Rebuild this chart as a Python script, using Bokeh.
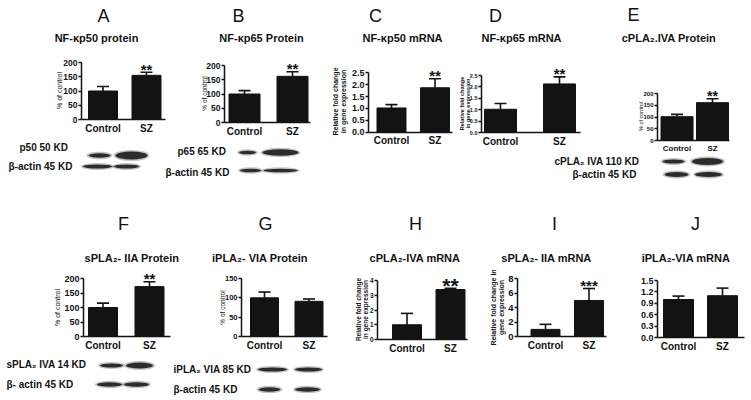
import math
from bokeh.plotting import figure
from bokeh.models import Range1d, LinearAxis, FixedTicker, NumeralTickFormatter
from bokeh.core.properties import value
from bokeh.embed import file_html
from bokeh.resources import INLINE

# ---------------- data ----------------
groups = ["Control", "SZ"]

A_values = [100, 155];  A_errors = [16, 11];   A_ticks = [0, 50, 100, 150, 200]
B_values = [100, 162];  B_errors = [12, 16];   B_ticks = [0, 50, 100, 150, 200]
C_values = [1.02, 1.87]; C_errors = [0.14, 0.38]; C_ticks = [0.0, 0.5, 1.0, 1.5, 2.0, 2.5]
D_values = [1.02, 2.13]; D_errors = [0.25, 0.31]; D_ticks = [0.0, 0.5, 1.0, 1.5, 2.0, 2.5]
E_values = [102, 162];  E_errors = [10, 17];   E_ticks = [0, 50, 100, 150, 200]
F_values = [100, 172];  F_errors = [15, 17];   F_ticks = [0, 50, 100, 150, 200]
G_values = [100, 91];   G_errors = [15, 6];    G_ticks = [0, 50, 100, 150]
H_values = [1.0, 3.39]; H_errors = [0.77, 0.08]; H_ticks = [0, 1, 2, 3, 4]
I_values = [0.98, 4.97]; I_errors = [0.7, 1.65]; I_ticks = [0, 2, 4, 6, 8]
J_values = [1.0, 1.1];  J_errors = [0.09, 0.2]; J_ticks = [0.0, 0.3, 0.6, 0.9, 1.2, 1.5]

panel_letters = ["A", "B", "C", "D", "E", "F", "G", "H", "I", "J"]
panel_titles = ["NF-κp50 protein", "NF-κp65 Protein", "NF-κp50 mRNA", "NF-κp65 mRNA",
                "cPLA₂.IVA  Protein", "sPLA₂- IIA  Protein", "iPLA₂- VIA  Protein",
                "cPLA₂-IVA  mRNA", "sPLA₂- IIA mRNA", "iPLA₂-VIA  mRNA"]
panel_stars = ["**", "**", "**", "**", "**", "**", "", "**", "***", ""]
tick_formats = ["0", "0", "0.0", "0.0", "0", "0", "0", "0", "0", "0.0"]
ylabels = [["% of control"], ["% of control"],
           ["Relative fold change", "in gene expression"],
           ["Relative fold change", "in gene expression"],
           ["% of control"], ["% of control"], ["% of control"],
           ["Relative fold change", "in gene expression"],
           ["Relative fold change in", "gene expression"], []]

blot_labels = {
    "A": ["p50  50 KD", "β-actin 45 KD"],
    "B": ["p65 65 KD", "β-actin 45 KD"],
    "E": ["cPLA₂ IVA 110 KD", "β-actin   45 KD"],
    "F": ["sPLA₂ IVA 14 KD", "β- actin   45 KD"],
    "G": ["iPLA₂ VIA 85 KD", "β-actin 45 KD"],
}

values = [A_values, B_values, C_values, D_values, E_values, F_values, G_values, H_values, I_values, J_values]
errors = [A_errors, B_errors, C_errors, D_errors, E_errors, F_errors, G_errors, H_errors, I_errors, J_errors]
ticks_all = [A_ticks, B_ticks, C_ticks, D_ticks, E_ticks, F_ticks, G_ticks, H_ticks, I_ticks, J_ticks]

# ---------------- layout (picture pixel positions) ----------------
W, H = 751, 400
M = 0
FONT = "Liberation Sans"
INK = "#131313"

LAYOUT = {
    "A": dict(ax=81, y0=119, ytop=62, cx=(102.5, 146), bw=29, xend=165, tfs=8.5, cfs=10, lfs=7, yl=(59, 90), letter=(103, 15), title=(96, 37), sfs=15),
    "B": dict(ax=224, y0=122, ytop=65, cx=(244, 292), bw=31, xend=310, tfs=8.5, cfs=10, lfs=6.5, yl=(204, 93), letter=(238, 15), title=(261, 37), sfs=15),
    "C": dict(ax=368, y0=131.7, ytop=72.3, cx=(391, 434.5), bw=29, xend=452, tfs=9, cfs=10, lfs=7, yl=(339, 101), letter=(375, 15), title=(402, 37), sfs=15),
    "D": dict(ax=481, y0=132, ytop=75, cx=(500, 559), bw=32, xend=580, tfs=5.5, cfs=10, lfs=5.5, yl=(464, 103), letter=(495, 15), title=(521, 37), sfs=15),
    "E": dict(ax=657, y0=140, ytop=93.3, cx=(676.5, 712), bw=32, xend=729, tfs=6, cfs=8, lfs=5.5, yl=(640, 116), letter=(633, 14), title=(670, 37), sfs=14),
    "F": dict(ax=83, y0=336, ytop=278, cx=(102.5, 149), bw=29, xend=170, tfs=9, cfs=10, lfs=7, yl=(57, 307), letter=(123, 223), title=(133, 257), sfs=15),
    "G": dict(ax=241, y0=336, ytop=278, cx=(264, 308.5), bw=28, xend=327, tfs=7.5, cfs=10, lfs=6.5, yl=(222, 307), letter=(265, 223), title=(261, 257), sfs=15),
    "H": dict(ax=377, y0=339, ytop=280, cx=(406.5, 450), bw=29, xend=467, tfs=6.5, cfs=10, lfs=6.5, yl=(361, 309), letter=(415, 223), title=(416, 257), sfs=21),
    "I": dict(ax=517, y0=336, ytop=278, cx=(545, 588.5), bw=29, xend=606, tfs=9.5, cfs=10, lfs=7, yl=(497, 307), letter=(554, 223), title=(546, 257), sfs=15),
    "J": dict(ax=657, y0=337, ytop=280, cx=(678, 722), bw=30, xend=744, tfs=9, cfs=10, lfs=7, yl=(640, 307), letter=(695, 223), title=(687, 257), sfs=15),
}

# blot rows: label x, row y, bands (center x, width, height)
BLOTS = {
    "A": [(19, 155, [(99, 22, 4.5), (131, 32, 8)]), (8, 166, [(97, 29, 4), (126, 25, 4)])],
    "B": [(177, 152, [(247, 17, 3.5), (280, 36, 6.5)]), (165, 170, [(250, 21, 3.5), (280, 34, 3.5)])],
    "E": [(554, 161, [(673, 22, 4), (707, 31, 7)]), (572, 174, [(676, 24, 5), (708, 27, 5)])],
    "F": [(6, 365, [(111, 23, 4), (139, 27, 6)]), (6, 384, [(109, 25, 4.5), (136, 25, 4.5)])],
    "G": [(173, 369, [(272, 29, 4), (308, 27, 4)]), (173, 389, [(269, 22, 4.5), (307, 25, 4.5)])],
}
BLOT_LABEL_DY = {"A": [-8, 0], "B": [-1, 2], "E": [0, 0], "F": [-1, 0], "G": [0, 0]}

p = figure(width=W, height=H, x_range=Range1d(M, M + W), y_range=Range1d(M + H, M),
           x_axis_type=None, y_axis_type=None, toolbar_location=None,
           output_backend="svg", min_border=0, outline_line_color=None)
p.background_fill_color = "white"
p.border_fill_color = "white"

# ranges per panel
xr, yr, scales = {}, {}, {}
for i, key in enumerate(panel_letters):
    L = LAYOUT[key]
    cx0, cx1 = L["cx"]
    sx = 1.0 / (cx1 - cx0)
    xs = -(cx0 - M) * sx
    xr[key] = Range1d(xs, xs + W * sx)
    sy = ticks_all[i][-1] / (L["y0"] - L["ytop"])
    ye = (L["y0"] - M) * sy
    yr[key] = Range1d(ye - H * sy, ye)
    scales[key] = (sx, sy)
p.extra_x_ranges = xr
p.extra_y_ranges = yr

def txt(x, y, s, size, bold=True, align="center", baseline="middle", angle=0.0, **kw):
    p.text(x=[x], y=[y], text=[s], text_font=value(FONT), text_font_size=f"{size}px",
           text_font_style="bold" if bold else "normal", text_align=align,
           text_baseline=baseline, text_color=INK, angle=angle, **kw)

for i, key in enumerate(panel_letters):
    L = LAYOUT[key]
    sx, sy = scales[key]
    cx0 = L["cx"][0]
    vals, errs, ticks = values[i], errors[i], ticks_all[i]
    xpos = [0, 1]
    upper = [v + e for v, e in zip(vals, errs)]
    kw = dict(x_range_name=key, y_range_name=key)

    p.vbar(x=xpos, top=vals, bottom=0, width=L["bw"] * sx, fill_color=INK, line_color=INK, **kw)
    p.segment(x0=xpos, y0=vals, x1=xpos, y1=upper, line_color=INK, line_width=1.6, **kw)
    cap = 6 * sx
    p.segment(x0=[x - cap for x in xpos], y0=upper, x1=[x + cap for x in xpos], y1=upper,
              line_color=INK, line_width=1.6, **kw)
    if panel_stars[i]:
        p.text(x=[1], y=[upper[1]], text=[panel_stars[i]], text_align="center",
               text_baseline="alphabetic", text_font=value(FONT), text_font_style="bold",
               text_font_size=f"{L['sfs']}px", text_color=INK, y_offset=-3, **kw)

    yax = LinearAxis(fixed_location=(L["ax"] - cx0) * sx, bounds=(0, ticks[-1]),
                     ticker=FixedTicker(ticks=ticks), formatter=NumeralTickFormatter(format=tick_formats[i]), **kw)
    yax.axis_line_color = INK
    yax.axis_line_width = 1.5
    yax.major_tick_out = 3
    yax.major_tick_in = 0
    yax.major_tick_line_width = 1.5
    yax.major_tick_line_color = INK
    yax.minor_tick_out = 0
    yax.minor_tick_in = 0
    yax.major_label_standoff = 1
    yax.major_label_text_font = FONT
    yax.major_label_text_font_style = "bold"
    yax.major_label_text_font_size = f"{L['tfs']}px"
    yax.major_label_text_color = INK
    p.add_layout(yax, "left")

    xax = LinearAxis(fixed_location=0, bounds=((L["ax"] - cx0) * sx, (L["xend"] - cx0) * sx),
                     ticker=FixedTicker(ticks=xpos), major_label_overrides={0: groups[0], 1: groups[1]}, **kw)
    xax.axis_line_color = INK
    xax.axis_line_width = 1.5
    xax.major_tick_out = 0
    xax.major_tick_in = 0
    xax.minor_tick_out = 0
    xax.minor_tick_in = 0
    xax.major_label_standoff = 3
    xax.major_label_text_font = FONT
    xax.major_label_text_font_style = "bold"
    xax.major_label_text_font_size = f"{L['cfs']}px"
    xax.major_label_text_color = INK
    p.add_layout(xax, "below")

    # letter and title
    txt(L["letter"][0], L["letter"][1], key, 18, bold=False)
    txt(L["title"][0], L["title"][1], panel_titles[i], 11)

    # y-axis label(s)
    lines = ylabels[i]
    if lines:
        n = len(lines)
        for j, line in enumerate(lines):
            dx = (j - (n - 1) / 2) * (L["lfs"] + 0.5)
            txt(L["yl"][0] + dx, L["yl"][1], line, L["lfs"], bold=(n > 1), angle=math.pi / 2)

# western blots
for key, rows in BLOTS.items():
    labels = blot_labels[key]
    for r, (lx, ry, bands) in enumerate(rows):
        bx = [b[0] for b in bands]
        bw = [b[1] for b in bands]
        bh = [b[2] for b in bands]
        p.ellipse(x=bx, y=[ry] * len(bands), width=[w + 4 for w in bw], height=[h + 3 for h in bh],
                  fill_color="#555555", fill_alpha=0.35, line_color=None)
        p.ellipse(x=bx, y=[ry] * len(bands), width=bw, height=bh,
                  fill_color="#1c1c1c", fill_alpha=0.9, line_color=None)
        txt(lx, ry + BLOT_LABEL_DY[key][r], labels[r], 10, align="left")

open("out.html", "w").write(file_html(p, INLINE))
